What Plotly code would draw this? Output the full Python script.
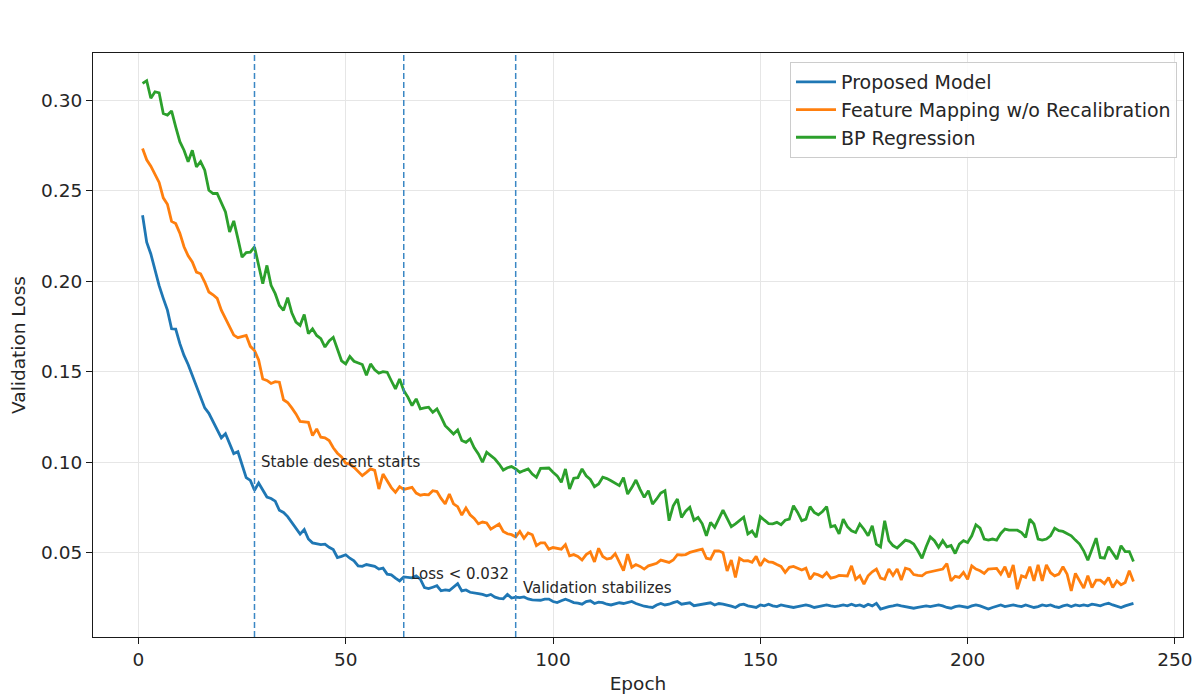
import plotly.graph_objects as go

EPOCHS = list(range(1, 241))

PROPOSED = [
    .2364, .2215, .2150, .2060, .1975, .1905, .1840, .1737, .1735, .1655,
    .1590, .1540, .1480, .1430, .1360, .1300, .1270, .1225, .1185, .1135,
    .1158, .1100, .1048, .1058, .0985, .0915, .0900,
    .0845, .0885, .0850, .0808, .0800, .0785, .0735, .0723, .0700, .0668,
    .0631, .0603, .0628, .0576, .0555, .0548, .0545, .0548, .0530, .0518,
    .0474, .0480, .0489, .0470, .0456, .0428, .0425, .0435, .0430, .0425,
    .0410, .0415, .0382, .0378, .0360, .0345, .0367, .0365, .0362, .0373,
    .0355, .0308, .0302, .0310, .0318, .0290,
    .0295, .0292, .0310, .0330, .0290, .0295, .0282, .0280, .0275, .0270,
    .0262, .0270, .0255, .0248, .0246, .0270, .0250, .0255, .0252, .0256,
    .0245, .0240, .0238,
    .0238, .0244, .0244, .0231, .0225, .0235, .0244, .0235, .0225, .0222,
    .0216, .0231, .0235, .0220, .0227, .0225, .0216, .0212, .0220, .0224,
    .0220, .0227, .0231, .0220, .0212, .0205, .0201, .0198, .0212, .0220,
    .0212, .0216, .0225, .0231, .0216, .0220, .0224, .0208, .0212, .0216,
    .0220, .0224, .0212, .0220, .0216, .0212, .0205, .0198, .0212, .0216,
    .0207, .0203, .0198, .0212, .0207, .0216, .0207, .0203, .0212, .0207,
    .0203, .0198, .0203, .0207, .0212, .0207, .0198, .0203, .0207, .0212,
    .0207, .0203, .0207, .0212, .0207, .0216, .0207, .0212, .0203, .0216,
    .0207, .0221, .0189, .0198, .0203, .0207, .0212, .0207, .0203, .0198,
    .0194, .0198, .0203, .0207, .0203, .0207, .0212, .0207, .0198, .0194,
    .0203, .0207, .0203, .0198, .0207, .0212, .0207, .0198, .0189, .0198,
    .0207, .0212, .0203, .0207, .0212, .0207, .0203, .0212, .0207, .0198,
    .0203, .0212, .0207, .0212, .0203, .0198, .0207, .0212, .0203, .0212,
    .0207, .0212, .0207, .0216, .0212, .0207, .0216, .0221, .0212, .0203,
    .0198, .0207, .0212, .0221,
]

FEATURE_MAPPING = [
    .2733, .2670, .2635, .2590, .2545, .2460, .2425, .2330, .2318, .2265,
    .2190, .2140, .2106, .2050, .2041, .1995, .1940, .1925, .1905, .1840,
    .1795, .1745, .1702, .1688, .1692, .1700, .1640, .1617, .1565, .1460,
    .1452, .1435, .1445, .1442, .1345, .1330, .1300, .1267, .1225, .1222,
    .1220, .1147, .1184, .1138, .1135, .1120, .1080, .1050, .1030, .0995,
    .0990, .0972, .0950, .0926, .0944, .0963, .0955, .0852, .0935, .0898,
    .0860, .0834, .0865, .0850, .0855, .0861, .0830, .0818, .0822, .0820,
    .0843, .0838, .0800, .0770, .0825, .0770, .0755, .0708, .0748, .0710,
    .0690, .0660, .0670, .0665, .0631, .0645, .0659, .0618, .0605, .0600,
    .0588, .0618, .0580, .0610, .0600, .0540,
    .0555, .0555, .0520, .0529, .0525, .0520, .0545, .0483, .0490, .0480,
    .0460, .0490, .0505, .0450, .0525, .0480, .0465, .0470, .0495, .0450,
    .0402, .0493, .0420, .0435, .0425, .0410, .0428, .0435, .0442, .0460,
    .0455, .0447, .0460, .0490, .0488, .0490, .0502, .0510, .0515, .0520,
    .0470, .0465, .0510, .0511, .0500, .0400, .0460, .0364, .0470, .0455,
    .0456, .0447, .0480, .0428, .0465, .0450, .0447, .0435, .0425, .0392,
    .0420, .0425, .0415, .0405, .0415, .0354, .0385, .0378, .0366, .0390,
    .0360, .0365, .0375, .0375, .0372, .0428, .0354, .0373, .0327, .0373,
    .0395, .0410, .0360, .0354, .0410, .0375, .0410, .0350, .0415, .0408,
    .0380, .0375, .0373, .0390, .0395, .0400, .0401, .0410, .0441, .0345,
    .0370,
    .0364, .0392, .0354, .0428, .0410, .0401, .0386, .0410, .0410, .0414,
    .0382, .0423, .0364, .0433, .0299, .0373, .0364, .0423, .0345, .0433,
    .0345, .0433, .0390, .0373, .0382, .0423, .0382, .0290, .0386, .0349,
    .0305, .0373, .0308, .0349, .0349, .0330, .0364, .0308, .0345, .0323,
    .0336, .0401, .0342,
]

BP_REGRESSION = [
    .3092, .3107, .3010, .3046, .3040, .2926, .2917, .2940, .2852, .2770,
    .2723, .2659, .2723, .2631, .2660, .2613, .2502, .2484, .2485, .2429,
    .2382, .2272, .2333, .2235, .2133, .2158, .2160, .2189, .2078, .1986,
    .2087, .1977, .1931, .1866, .1839, .1909, .1825, .1774, .1756, .1816,
    .1710, .1737, .1700, .1683, .1636, .1670,
    .1690, .1620, .1560, .1543, .1584, .1558, .1550, .1540, .1480, .1543,
    .1510, .1492, .1500, .1497, .1450, .1405, .1460, .1396, .1360, .1313,
    .1350, .1295, .1300, .1304, .1276, .1295, .1250, .1202, .1180, .1156,
    .1178, .1120, .1110, .1129, .1080, .1046, .1000, .1055, .1037, .1018,
    .0990, .0957, .0970, .0976, .0963, .0944, .0954, .0963, .0935, .0917,
    .0966, .0966, .0968, .0945, .0925, .0889, .0963, .0852, .0912, .0915,
    .0963, .0925, .0905, .0865, .0880, .0917, .0910, .0898, .0885, .0871,
    .0915, .0824, .0860, .0902, .0850, .0806, .0843, .0769, .0797, .0830,
    .0843, .0677, .0760, .0797, .0695, .0730, .0751, .0680, .0695, .0660,
    .0594, .0668, .0640, .0690, .0736, .0690, .0644, .0660, .0678, .0697,
    .0604, .0620, .0586, .0700, .0680, .0661, .0660, .0668, .0655, .0680,
    .0686, .0760, .0723, .0677, .0686, .0755, .0723, .0710, .0728, .0755,
    .0644, .0650, .0604, .0686, .0644, .0622, .0612, .0659, .0630, .0594,
    .0649, .0548, .0533, .0677, .0567, .0540, .0526, .0548, .0570, .0563,
    .0548, .0511, .0470, .0533, .0588, .0567, .0530, .0567, .0533, .0540,
    .0496, .0548, .0567, .0557, .0594, .0655, .0636, .0576, .0570, .0576,
    .0570, .0607, .0631, .0625, .0625, .0625, .0612, .0585, .0686, .0659,
    .0576, .0570, .0576, .0594, .0636, .0622, .0618, .0607, .0594, .0570,
    .0548, .0511, .0459, .0520, .0581, .0474, .0470, .0533, .0502, .0465,
    .0539, .0507, .0507, .0452,
]

SERIES_NAMES = ["Proposed Model", "Feature Mapping w/o Recalibration", "BP Regression"]
SERIES_COLORS = ["#1f77b4", "#ff7f0e", "#2ca02c"]

MARKER_EPOCHS = [28, 64, 91]
NOTE_TEXTS = ["Stable descent starts", "Loss < 0.032", "Validation stabilizes"]
NOTE_X = [29.0, 65.2, 92.3]
NOTE_Y = [0.1000, 0.0384, 0.0305]

X_TICKS = [0, 50, 100, 150, 200, 250]
Y_TICKS = [0.05, 0.10, 0.15, 0.20, 0.25, 0.30]

assert len(PROPOSED) == 240 and len(FEATURE_MAPPING) == 240 and len(BP_REGRESSION) == 240

FONT = "DejaVu Sans"
fig = go.Figure()
for name, ys, col in zip(SERIES_NAMES, [PROPOSED, FEATURE_MAPPING, BP_REGRESSION], SERIES_COLORS):
    fig.add_trace(go.Scatter(x=EPOCHS, y=ys, mode="lines", name=name,
                             line=dict(color=col, width=2.8)))

for ep in MARKER_EPOCHS:
    fig.add_shape(type="line", xref="x", yref="paper", x0=ep, x1=ep, y0=0, y1=1,
                  line=dict(color="#3a87c4", width=1.5, dash="6px,3px"))

for t, xx, yy in zip(NOTE_TEXTS, NOTE_X, NOTE_Y):
    fig.add_annotation(x=xx, y=yy, text=t, showarrow=False, xanchor="left", yanchor="middle",
                       font=dict(family=FONT, size=15, color="#262626"))

axis_common = dict(showline=True, mirror=True, linecolor="#1a1a1a", linewidth=1.2,
                   ticks="outside", ticklen=6, tickwidth=1.2, tickcolor="#1a1a1a",
                   showgrid=True, gridcolor="#e6e6e6", gridwidth=1, zeroline=False,
                   automargin=False,
                   tickfont=dict(family=FONT, size=18.5, color="#262626"))

fig.update_layout(
    width=1198, height=695,
    margin=dict(l=93, r=15, t=53, b=58, autoexpand=False),
    paper_bgcolor="white", plot_bgcolor="white",
    font=dict(family=FONT, size=18, color="#262626"),
    xaxis=dict(range=[-10.95, 251.95], tickvals=X_TICKS,
               title=dict(text="Epoch", font=dict(family=FONT, size=18.5), standoff=7),
               **axis_common),
    yaxis=dict(range=[0.0035, 0.326], tickvals=Y_TICKS, tickformat=".2f",
               title=dict(text="Validation Loss", font=dict(family=FONT, size=18.5), standoff=10),
               **axis_common),
    legend=dict(x=0.9945, y=0.9846, xanchor="right", yanchor="top",
                bgcolor="rgba(255,255,255,0.85)", bordercolor="#cccccc", borderwidth=1,
                font=dict(family=FONT, size=19, color="#262626"), itemwidth=40),
    showlegend=True,
)

fig.write_html("out.html")
